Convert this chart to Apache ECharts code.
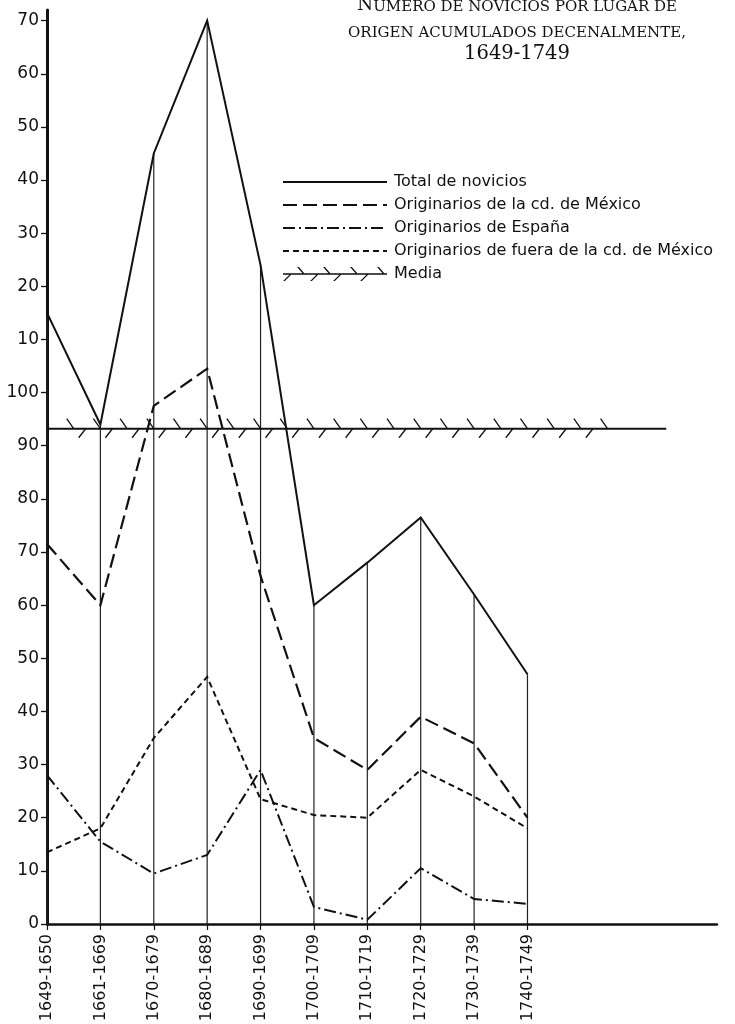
<!DOCTYPE html>
<html><head><meta charset="utf-8">
<script src="https://cdn.jsdelivr.net/npm/echarts@6/dist/echarts.min.js"></script>
<style>html,body{margin:0;padding:0;background:#fff}#c{width:735px;height:1024px}</style>
</head><body><div id="c"></div>
<script>
// ---- data ----
const categories = ['1649-1650','1661-1669','1670-1679','1680-1689','1690-1699','1700-1709','1710-1719','1720-1729','1730-1739','1740-1749'];
const totalNovicios = [115, 94, 145, 170, 124, 60, 68, 76.5, 62, 47];
const origMexico    = [71.5, 60, 97.5, 104.5, 65.5, 35, 29, 39, 34, 20];
const origEspana    = [28, 15.5, 9.5, 13, 29, 3.2, 0.8, 10.5, 4.7, 3.8];
const origFuera     = [13.5, 18, 35, 46.5, 23.5, 20.5, 20, 29, 24, 18];
const mediaValue    = 93.2;
const mediaRange    = [0, 11.6];
const yTickValues   = [0,10,20,30,40,50,60,70,80,90,100,110,120,130,140,150,160,170];
const yTickLabels   = ['0','10','20','30','40','50','60','70','80','90','100','10','20','30','40','50','60','70'];
const seriesNames   = ['Total de novicios','Originarios de la cd. de México','Originarios de España','Originarios de fuera de la cd. de México','Media'];

// ---- helpers ----
const INK = '#111';
const pairs = arr => arr.map((v, i) => [i, v]);
const catIdx = categories.map((c, i) => i);

// legend icon for "Media" (hatched line), drawn in a 104x14 box
function mediaIcon() {
  let d = 'M0 6.2 L104 6.2 L104 7.8 L0 7.8 Z ';
  [15, 41, 68, 95].forEach(x => {
    d += `M${x-0.9} 0 L${x+0.9} 0 L${x+6.9} 7 L${x+5.1} 7 Z `;
  });
  [8, 35, 58, 85].forEach(x => {
    d += `M${x-0.9} 7 L${x+0.9} 7 L${x-6.1} 14 L${x-7.9} 14 Z `;
  });
  return 'path://' + d;
}

const chart = echarts.init(document.getElementById('c'), null, {renderer: 'canvas'});

const lineBase = (name, data, type, width) => ({
  name, type: 'line', data: pairs(data), symbol: 'none', showSymbol: false,
  z: 4, animation: false,
  lineStyle: {color: INK, width: width, type: type, join: 'miter'},
  itemStyle: {color: INK}
});
const lineLegend = name => ({name, itemStyle: {opacity: 0}});

chart.setOption({
  animation: false,
  backgroundColor: '#fff',
  grid: {left: 47, right: 18, top: 10, bottom: 100, containLabel: false, outerBoundsMode: 'none'},
  graphic: [{
    type: 'text', x: 517, y: -11, z: 10,
    style: {
      text: '{c|N}{s|ÚMERO DE NOVICIOS POR LUGAR DE}\n{s|ORIGEN ACUMULADOS DECENALMENTE,}\n{n|1649-1749}',
      align: 'center', verticalAlign: 'top',
      rich: {
        c: {fontFamily: 'DejaVu Serif', fontSize: 18.5, lineHeight: 26, fill: INK, verticalAlign: 'bottom', align: 'center'},
        s: {fontFamily: 'DejaVu Serif', fontSize: 15, lineHeight: 26, fill: INK, verticalAlign: 'bottom', align: 'center'},
        n: {fontFamily: 'DejaVu Serif', fontSize: 19.5, lineHeight: 26, fill: INK, align: 'center'}
      }
    }
  }],
  legend: {
    orient: 'vertical', left: 282, top: 174, padding: 0,
    itemWidth: 104, itemHeight: 14, itemGap: 7,
    selectedMode: false,
    textStyle: {fontFamily: 'DejaVu Sans', fontSize: 16, color: INK, padding: [0, 0, 0, 2]},
    data: [
      lineLegend(seriesNames[0]), lineLegend(seriesNames[1]),
      lineLegend(seriesNames[2]), lineLegend(seriesNames[3]),
      {name: seriesNames[4], icon: mediaIcon(), itemStyle: {color: INK, opacity: 1}}
    ]
  },
  xAxis: {
    type: 'value', min: 0, max: 12.55,
    axisLine: {show: true, onZero: false, lineStyle: {color: INK, width: 2.5}},
    axisTick: {show: true, customValues: catIdx, length: 6, lineStyle: {color: INK, width: 1.2}},
    axisLabel: {
      show: true, customValues: catIdx, rotate: 90, margin: 10,
      formatter: v => categories[Math.round(v)] || '',
      fontFamily: 'DejaVu Sans', fontSize: 16, color: INK
    },
    splitLine: {show: false}
  },
  yAxis: {
    type: 'value', min: 0, max: 172,
    axisLine: {show: true, onZero: false, lineStyle: {color: INK, width: 3}},
    axisTick: {show: true, customValues: yTickValues, length: 6, lineStyle: {color: INK, width: 1.3}},
    axisLabel: {
      show: true, customValues: yTickValues, margin: 8,
      formatter: v => yTickLabels[yTickValues.indexOf(Math.round(v))],
      fontFamily: 'DejaVu Sans', fontSize: 17, color: INK
    },
    splitLine: {show: false}
  },
  series: [
    {
      name: 'drop', type: 'bar', data: pairs(totalNovicios), barWidth: 1.2,
      itemStyle: {color: '#222'}, z: 2, silent: true, animation: false
    },
    lineBase(seriesNames[0], totalNovicios, 'solid', 2),
    lineBase(seriesNames[1], origMexico, [14, 6], 2.2),
    lineBase(seriesNames[2], origEspana, [12, 4, 2, 4], 2),
    lineBase(seriesNames[3], origFuera, [6, 4], 2),
    {
      name: seriesNames[4], type: 'custom', z: 3, animation: false,
      itemStyle: {color: INK},
      data: [[mediaRange[0], mediaValue, mediaRange[1]]],
      encode: {x: [0, 2], y: 1},
      renderItem: function (params, api) {
        const yv = api.value(1);
        const a = api.coord([api.value(0), yv]);
        const b = api.coord([api.value(2), yv]);
        const st = {stroke: INK, lineWidth: 1.3, fill: null};
        const children = [{type: 'line', shape: {x1: a[0], y1: a[1], x2: b[0], y2: b[1]}, style: {stroke: INK, lineWidth: 1.8}}];
        for (let k = 1; k <= 21; k++) {
          const p = api.coord([k * 0.5, yv]);
          children.push({type: 'line', shape: {x1: p[0] - 7, y1: p[1] - 10, x2: p[0], y2: p[1]}, style: st});
          if (k <= 20) {
            children.push({type: 'line', shape: {x1: p[0] + 12, y1: p[1], x2: p[0] + 5, y2: p[1] + 9}, style: st});
          }
        }
        return {type: 'group', children: children};
      }
    }
  ]
});
</script>
</body></html>
